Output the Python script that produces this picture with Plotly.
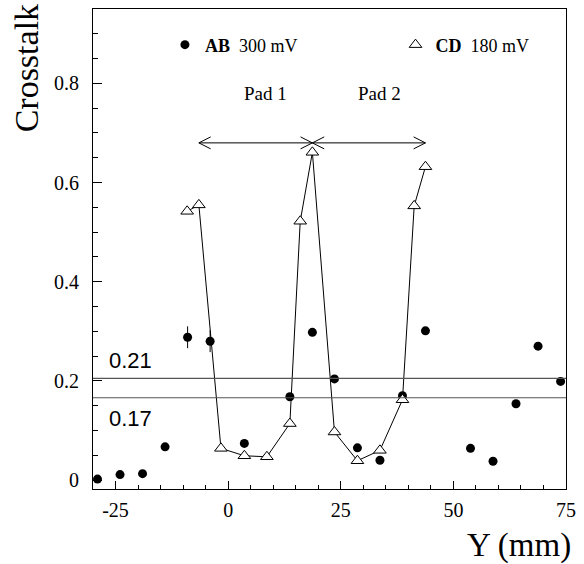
import plotly.graph_objects as go

# ---- data ----
ab_x = [-29, -24, -19, -14, -9, -4, 3.6, 13.7, 18.7, 23.6, 28.7, 33.7, 38.7, 43.8, 53.8, 58.8, 63.9, 68.8, 73.8]
ab_y = [0.002, 0.011, 0.013, 0.067, 0.288, 0.280, 0.074, 0.168, 0.298, 0.204, 0.065, 0.040, 0.170, 0.301,
        0.064, 0.038, 0.154, 0.270, 0.199]
ab_err = [0, 0, 0, 0, 0.022, 0.022, 0, 0, 0.004, 0, 0, 0, 0, 0.007, 0, 0, 0, 0.007, 0]

cd_x = [-9.1, -6.5, -1.6, 3.6, 8.6, 13.7, 16.0, 18.7, 23.6, 28.7, 33.7, 38.7, 41.3, 43.8]
cd_y = [0.542, 0.555, 0.064, 0.049, 0.047, 0.114, 0.522, 0.661, 0.097, 0.039, 0.060, 0.162, 0.553, 0.632]

thresh_vals = [0.205, 0.166]
thresh_labels = ["0.21", "0.17"]
thresh_label_y = [0.241, 0.124]

pad_edges = [-6.5, 18.7, 43.8]
arrow_y = 0.68
pad_labels = ["Pad 1", "Pad 2"]
pad_label_x = [8.3, 33.5]
pad_label_y = 0.779

x_tick_vals = [-25, 0, 25, 50, 75]
x_tick_labels = ["-25", "0", "25", "50", "75"]
y_tick_vals = [0, 0.2, 0.4, 0.6, 0.8]
y_tick_labels = ["0", "0.2", "0.4", "0.6", "0.8"]

x_range = [-30, 75]
y_range = [-0.018, 0.95]

# ---- layout geometry ----
W, H = 584, 564
ML, MR, MT, MB = 93, 11, 8, 75
pw, ph = W - ML - MR, H - MT - MB
ux = (x_range[1] - x_range[0]) / pw   # data units per pixel
uy = (y_range[1] - y_range[0]) / ph

serif = "Liberation Serif, Times New Roman, serif"
sans = "Liberation Sans, Arial, sans-serif"

fig = go.Figure()

# CD connecting line
fig.add_trace(go.Scatter(x=cd_x, y=cd_y, mode="lines", line=dict(color="black", width=1),
                         showlegend=False, hoverinfo="skip"))

# AB points
fig.add_trace(go.Scatter(
    x=ab_x, y=ab_y, mode="markers", name="<b>AB</b>\u00a0\u00a0300 mV", legend="legend",
    marker=dict(symbol="circle", size=9, color="black"),
    error_y=dict(type="data", array=ab_err, visible=True, color="black", thickness=1, width=0),
))

# CD markers
fig.add_trace(go.Scatter(
    x=cd_x, y=cd_y, mode="markers", name="<b>CD</b>\u00a0\u00a0180 mV", legend="legend2",
    marker=dict(symbol="triangle-up", size=11, color="white", line=dict(color="black", width=1)),
))

# double arrows for the pads
hx = 12 * ux
hy = 6 * uy
for a, b in zip(pad_edges[:-1], pad_edges[1:]):
    xs = [a, b, None,
          a + hx, a, a + hx, None,
          b - hx, b, b - hx]
    ys = [arrow_y, arrow_y, None,
          arrow_y + hy, arrow_y, arrow_y - hy, None,
          arrow_y + hy, arrow_y, arrow_y - hy]
    fig.add_trace(go.Scatter(x=xs, y=ys, mode="lines", line=dict(color="black", width=1),
                             showlegend=False, hoverinfo="skip"))

shapes = []
annotations = []
for v, lab, ly in zip(thresh_vals, thresh_labels, thresh_label_y):
    shapes.append(dict(type="line", xref="paper", x0=0, x1=1, yref="y", y0=v, y1=v,
                       line=dict(color="#555", width=1.2)))
    annotations.append(dict(x=-26.8, y=ly, xref="x", yref="y", text=lab, showarrow=False,
                            xanchor="left", yanchor="middle",
                            font=dict(family=sans, size=22, color="black")))

for lab, lx in zip(pad_labels, pad_label_x):
    annotations.append(dict(x=lx, y=pad_label_y, xref="x", yref="y", text=lab, showarrow=False,
                            xanchor="center", yanchor="middle",
                            font=dict(family=serif, size=19, color="black")))

annotations.append(dict(x=(25.5 - ML) / pw, y=(MT + ph - 67) / ph, xref="paper", yref="paper",
                        text="Crosstalk", textangle=-90, showarrow=False,
                        xanchor="center", yanchor="middle",
                        font=dict(family=serif, size=34, color="black")))
annotations.append(dict(x=(580 - ML) / pw, y=(MT + ph - 546) / ph, xref="paper", yref="paper",
                        text="Y (mm)", showarrow=False, xanchor="right", yanchor="middle",
                        font=dict(family=serif, size=33, color="black")))

legend_common = dict(orientation="h", xanchor="left", yanchor="middle",
                     bgcolor="rgba(0,0,0,0)", borderwidth=0,
                     font=dict(family=serif, size=18, color="black"))

tickfont = dict(family=serif, size=20, color="black")

fig.update_layout(
    width=W, height=H,
    margin=dict(l=ML, r=MR, t=MT, b=MB),
    paper_bgcolor="white", plot_bgcolor="white",
    showlegend=True,
    legend=dict(x=(166 - ML) / pw, y=(MT + ph - 44) / ph, **legend_common),
    legend2=dict(x=(400 - ML) / pw, y=(MT + ph - 44) / ph, **legend_common),
    shapes=shapes, annotations=annotations,
    font=dict(family=serif, color="black", size=20),
    xaxis=dict(range=x_range, showgrid=False, zeroline=False,
               showline=True, linecolor="black", linewidth=1, mirror=True,
               ticks="inside", ticklen=8, tickwidth=1, tickcolor="black",
               tickmode="array", tickvals=x_tick_vals, ticktext=x_tick_labels,
               ticklabelstandoff=3,
               minor=dict(ticks="inside", ticklen=4, tickmode="linear", dtick=5, tick0=0,
                          tickcolor="black", showgrid=False),
               tickfont=tickfont),
    yaxis=dict(range=y_range, showgrid=False, zeroline=False,
               showline=True, linecolor="black", linewidth=1, mirror=True,
               ticks="inside", ticklen=9, tickwidth=1, tickcolor="black",
               tickmode="array", tickvals=y_tick_vals, ticktext=y_tick_labels,
               ticklabelstandoff=9,
               minor=dict(ticks="inside", ticklen=5, tickmode="linear", dtick=0.05, tick0=0,
                          tickcolor="black", showgrid=False),
               tickfont=tickfont),
)

fig.write_html("out.html")
